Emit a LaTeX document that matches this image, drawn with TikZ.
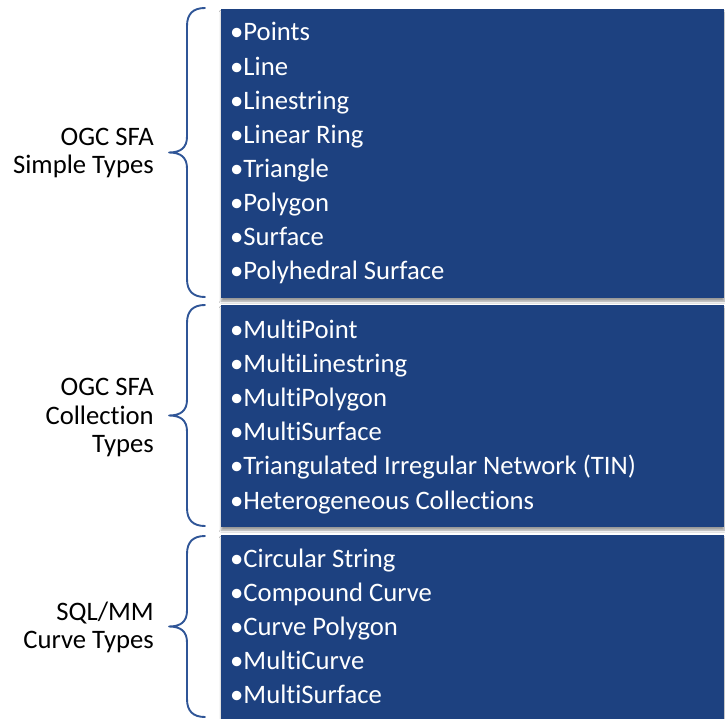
\documentclass[tikz,border=0pt]{standalone}
\usepackage{fontspec}
\setmainfont{Carlito}[Ligatures=NoCommon]
\usetikzlibrary{shadows.blur}
\definecolor{boxblue}{RGB}{29,65,128}
\definecolor{bracecol}{RGB}{47,85,151}
\tikzset{
  itembox/.style={fill=boxblue,draw=none,blur shadow={shadow xshift=0pt,shadow yshift=-3pt,shadow blur steps=6,shadow opacity=40,shadow blur radius=2pt}},
  itemtext/.style={anchor=base west,text=white,inner sep=0pt,font=\fontsize{26.67}{32}\selectfont},
  labeltext/.style={anchor=base east,text=black,inner sep=0pt,font=\fontsize{26.67}{32}\selectfont},
  bracepath/.style={draw=bracecol,line width=1.9pt,line cap=round,line join=round}
}
\newcommand{\bracedraw}[2]{% top, bottom (pixel y)
  \pgfmathsetmacro{\mymid}{(#1+#2)/2}
  \draw[bracepath] (205,#1) .. controls (193,#1) and (187,#1+6) .. (187,#1+18)
    -- (187,\mymid-16) .. controls (187,\mymid-5) and (181,\mymid) .. (169,\mymid)
    .. controls (181,\mymid) and (187,\mymid+5) .. (187,\mymid+16)
    -- (187,#2-18) .. controls (187,#2-6) and (193,#2) .. (205,#2);
}
\begin{document}
\begin{tikzpicture}[x=1pt,y=-1pt]
\useasboundingbox (0,0) rectangle (725,719);
\fill[white] (0,0) rectangle (725,719);
% boxes
\node[itembox,anchor=north west,minimum width=503pt,minimum height=289pt,inner sep=0pt] (b1) at (221,9) {};
\node[itembox,anchor=north west,minimum width=503pt,minimum height=222pt,inner sep=0pt] (b2) at (221,305) {};
\node[itembox,anchor=north west,minimum width=503pt,minimum height=190pt,inner sep=0pt] (b3) at (221,535) {};
% items
\foreach \t [count=\i] in {Points,Line,Linestring,Linear Ring,Triangle,Polygon,Surface,Polyhedral Surface}
  \node[itemtext] (s\i) at (230,{41+34.1*(\i-1)}) {\textbullet\t};
\foreach \t [count=\i] in {MultiPoint,MultiLinestring,MultiPolygon,MultiSurface,Triangulated Irregular Network (TIN),Heterogeneous Collections}
  \node[itemtext] (c\i) at (230,{338+34.2*(\i-1)}) {\textbullet\t};
\foreach \t [count=\i] in {Circular String,Compound Curve,Curve Polygon,MultiCurve,MultiSurface}
  \node[itemtext] (m\i) at (230,{567+34*(\i-1)}) {\textbullet\t};
% braces
\bracedraw{8}{297}
\bracedraw{305}{526}
\bracedraw{536}{717}
% labels
\node[labeltext] (l1a) at (154,146) {OGC SFA};
\node[labeltext] (l1b) at (154,174) {Simple Types};
\node[labeltext] (l2a) at (154,395) {OGC SFA};
\node[labeltext] (l2b) at (154,424) {Collection};
\node[labeltext] (l2c) at (154,452) {Types};
\node[labeltext] (l3a) at (154,620) {SQL/MM};
\node[labeltext] (l3b) at (154,648) {Curve Types};
\end{tikzpicture}
\end{document}
